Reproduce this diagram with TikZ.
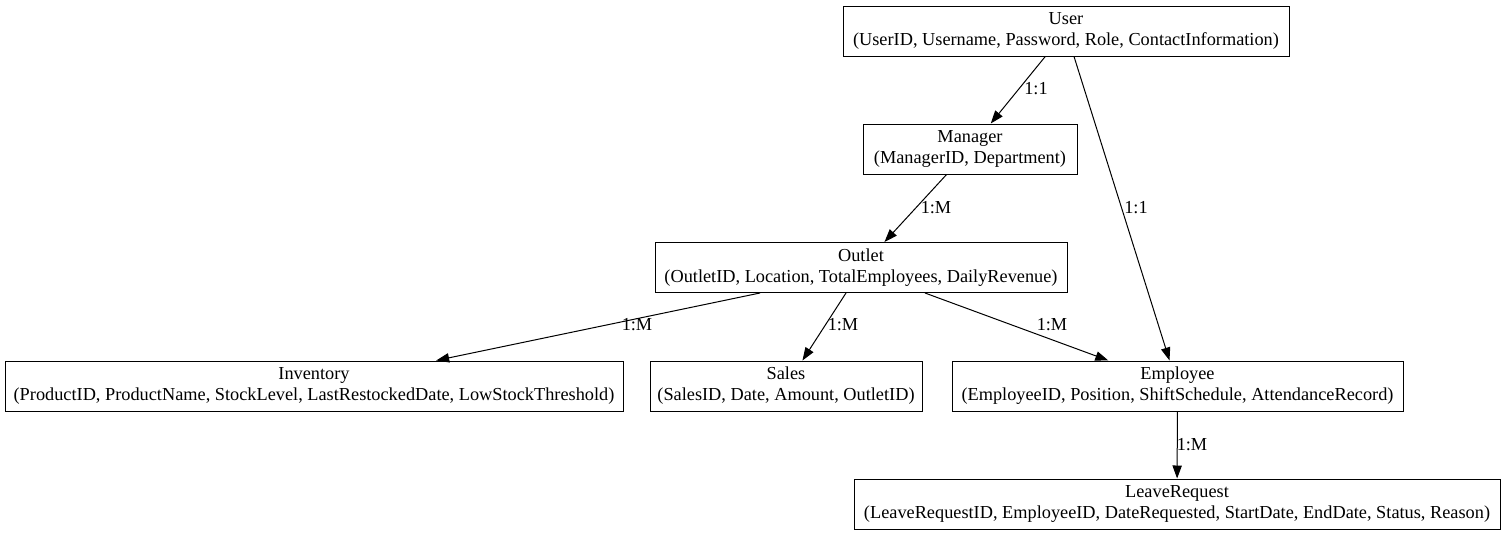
\documentclass[tikz,border=0pt]{standalone}
\usepackage{fontspec}
\setmainfont{Liberation Serif}
\usetikzlibrary{arrows.meta}
\begin{document}
\begin{tikzpicture}[x=1pt,y=-1pt,
  ent/.style={draw,line width=1pt,inner sep=0pt,align=center,font=\fontsize{18.3}{21}\selectfont,minimum height=50pt},
  rel/.style={line width=1pt,-{Triangle[length=13pt,width=9.3pt]}},
  lbl/.style={font=\fontsize{18.3}{20}\selectfont,inner sep=0pt}]
\useasboundingbox (0,0) rectangle (1505,536);
\node[ent,minimum width=446pt] (user) at (1066,31) {User\\(UserID, Username, Password, Role, ContactInformation)};
\node[ent,minimum width=214pt] (manager) at (970,149) {Manager\\(ManagerID, Department)};
\node[ent,minimum width=412pt] (outlet) at (861,267.5) {Outlet\\(OutletID, Location, TotalEmployees, DailyRevenue)};
\node[ent,minimum width=618pt] (inventory) at (314,386) {Inventory\\(ProductID, ProductName, StockLevel, LastRestockedDate, LowStockThreshold)};
\node[ent,minimum width=272pt] (sales) at (786,386) {Sales\\(SalesID, Date, Amount, OutletID)};
\node[ent,minimum width=451pt] (employee) at (1177.5,386) {Employee\\(EmployeeID, Position, ShiftSchedule, AttendanceRecord)};
\node[ent,minimum width=646pt] (leave) at (1177,504) {LeaveRequest\\(LeaveRequestID, EmployeeID, DateRequested, StartDate, EndDate, Status, Reason)};

\draw[rel] (user) -- (manager);
\draw[rel] ([xshift=8pt]user.south) -- (employee);
\draw[rel] (manager) -- (outlet);
\draw[rel] ([xshift=-101pt]outlet.south) -- (inventory);
\draw[rel] ([xshift=-15pt]outlet.south) -- (sales);
\draw[rel] ([xshift=64pt]outlet.south) -- (employee);
\draw[rel] (employee) -- (leave);

\node[lbl] (l1) at (1036,89) {1:1};
\node[lbl] (l2) at (1136,208) {1:1};
\node[lbl] (l3) at (936,208) {1:M};
\node[lbl] (l4) at (637,325) {1:M};
\node[lbl] (l5) at (843,325) {1:M};
\node[lbl] (l6) at (1052,325) {1:M};
\node[lbl] (l7) at (1192,445) {1:M};
\end{tikzpicture}
\end{document}
